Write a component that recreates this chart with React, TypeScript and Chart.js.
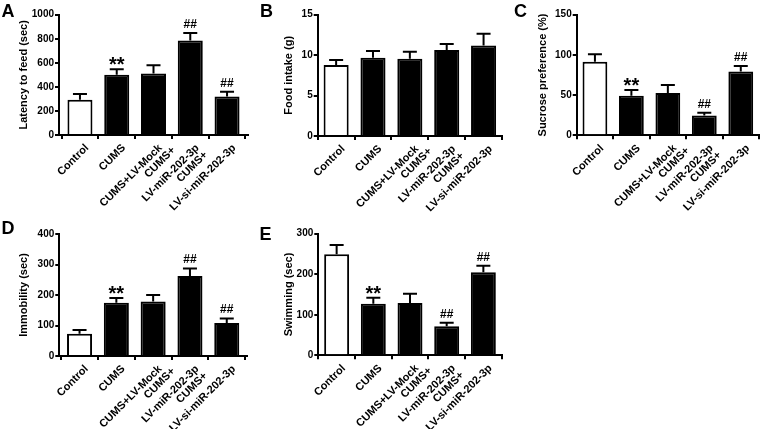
import React, { useEffect, useRef } from "react";
import { Chart, registerables } from "chart.js";

Chart.register(...registerables);

const FONT = '"Liberation Sans", Arial, Helvetica, sans-serif';

// Categories (multi-line tick labels)
const categories: string[][] = [
  ["Control"],
  ["CUMS"],
  ["CUMS+LV-Mock"],
  ["CUMS+", "LV-miR-202-3p"],
  ["CUMS+", "LV-si-miR-202-3p"],
];

// A: Latency to feed (sec)
const latencyMean = [293, 500, 511, 785, 320];
const latencySem = [47, 47, 69, 63, 39];
const latencySig = ["", "**", "", "##", "##"];

// B: Food intake (g)
const foodMean = [8.78, 9.68, 9.56, 10.63, 11.2];
const foodSem = [0.61, 0.82, 0.86, 0.74, 1.45];
const foodSig = ["", "", "", "", ""];

// C: Sucrose preference (%)
const sucroseMean = [91.6, 49.3, 52.6, 24.5, 79.2];
const sucroseSem = [9.1, 7.1, 10, 3.7, 7];
const sucroseSig = ["", "**", "", "##", "##"];

// D: Immobility (sec)
const immobilityMean = [73, 175, 179, 262, 108];
const immobilitySem = [12, 15, 21, 25, 15];
const immobilitySig = ["", "**", "", "##", "##"];

// E: Swimming (sec)
const swimmingMean = [249, 127, 129, 71.5, 205];
const swimmingSem = [23, 15, 23, 9, 16];
const swimmingSig = ["", "**", "", "##", "##"];

// rotated label placement (relative to tick / axis)
const LBL_ALONG = -3;
const LBL_PERP = 16;
const LBL_LH = 15;

type Panel = {
  letter: string;
  title: string;
  mean: number[];
  sem: number[];
  sig: string[];
  yMax: number;
  yStep: number;
  left: number;
  top: number;
  w: number;
  h: number;
  pl: number;
  pr: number;
  pt: number;
  xh: number;
  yw: number;
  xpad: number;
  letterX: number;
  letterY: number;
};

const panels: Panel[] = [
  {
    letter: "A", title: "Latency to feed (sec)", mean: latencyMean, sem: latencySem, sig: latencySig,
    yMax: 1000, yStep: 200,
    left: 0, top: 0, w: 255, h: 215, pl: 13.4, pr: 7, pt: 14.7, xh: 80, yw: 45.6, xpad: 0.57,
    letterX: 1.5, letterY: 1.7,
  },
  {
    letter: "B", title: "Food intake (g)", mean: foodMean, sem: foodSem, sig: foodSig,
    yMax: 15, yStep: 5,
    left: 255, top: 0, w: 255, h: 215, pl: 23.4, pr: 8, pt: 14.7, xh: 79, yw: 39.3, xpad: 0.5,
    letterX: 260, letterY: 1.7,
  },
  {
    letter: "C", title: "Sucrose preference (%)", mean: sucroseMean, sem: sucroseSem, sig: sucroseSig,
    yMax: 150, yStep: 50,
    left: 515, top: 0, w: 249, h: 215, pl: 17.4, pr: 5, pt: 14.7, xh: 79.7, yw: 44.3, xpad: 0.5,
    letterX: 514, letterY: 1.7,
  },
  {
    letter: "D", title: "Immobility (sec)", mean: immobilityMean, sem: immobilitySem, sig: immobilitySig,
    yMax: 400, yStep: 100,
    left: 0, top: 215, w: 255, h: 214, pl: 13.4, pr: 8, pt: 19, xh: 73, yw: 45.9, xpad: 0.55,
    letterX: 1.4, letterY: 218.7,
  },
  {
    letter: "E", title: "Swimming (sec)", mean: swimmingMean, sem: swimmingSem, sig: swimmingSig,
    yMax: 300, yStep: 100,
    left: 255, top: 215, w: 255, h: 214, pl: 23.4, pr: 8.3, pt: 18.7, xh: 73.7, yw: 39.9, xpad: 0.5,
    letterX: 259.5, letterY: 225.4,
  },
];

function makeChart(canvas: HTMLCanvasElement, p: Panel) {
  const errPlugin = {
    id: "errbars" + p.letter,
    afterDatasetsDraw(chart: any) {
      const ctx = chart.ctx as CanvasRenderingContext2D;
      const xs = chart.scales.x;
      const ys = chart.scales.y;
      ctx.save();
      ctx.strokeStyle = "#000";
      ctx.fillStyle = "#000";
      ctx.lineWidth = 2;
      p.mean.forEach((m, i) => {
        const x = xs.getPixelForValue(i);
        const y0 = ys.getPixelForValue(m);
        const y1 = ys.getPixelForValue(m + p.sem[i]);
        ctx.beginPath();
        ctx.moveTo(x, y0);
        ctx.lineTo(x, y1);
        ctx.moveTo(x - 7, y1);
        ctx.lineTo(x + 7, y1);
        ctx.stroke();
        const mark = p.sig[i];
        if (mark) {
          const star = mark === "**";
          ctx.font = `bold ${star ? 20 : 12}px ${FONT}`;
          ctx.textAlign = "center";
          ctx.textBaseline = "alphabetic";
          const mt = ctx.measureText(mark);
          const gap = star ? 3 : 4;
          const bottom = y1 - 1 - gap;
          ctx.fillText(mark, x, bottom - mt.actualBoundingBoxDescent);
        }
      });
      ctx.restore();
    },
    afterDraw(chart: any) {
      const ctx = chart.ctx as CanvasRenderingContext2D;
      const xs = chart.scales.x;
      const axisY = chart.chartArea.bottom;
      const dx = (LBL_ALONG + LBL_PERP) / Math.SQRT2;
      const dy = (LBL_PERP - LBL_ALONG) / Math.SQRT2;
      ctx.save();
      ctx.font = `bold 11px ${FONT}`;
      ctx.fillStyle = "#000";
      ctx.textBaseline = "alphabetic";
      ctx.textAlign = "center";
      categories.forEach((lines, i) => {
        const x = xs.getPixelForValue(i);
        const maxW = Math.max(...lines.map((l) => ctx.measureText(l).width));
        ctx.save();
        ctx.translate(x + dx, axisY + dy);
        ctx.rotate(-Math.PI / 4);
        lines.forEach((l, j) => {
          const yy = -(lines.length - 1 - j) * LBL_LH;
          ctx.fillText(l, -maxW / 2, yy);
        });
        ctx.restore();
      });
      ctx.restore();
    },
  };

  return new Chart(canvas, {
    type: "bar",
    data: {
      datasets: [
        {
          data: p.mean.map((v, i) => ({ x: i, y: v })),
          backgroundColor: p.mean.map((_, i) => (i === 0 ? "#ffffff" : "#000000")),
          borderColor: "#000000",
          borderWidth: 2,
          barPercentage: 0.68,
          categoryPercentage: 1,
        } as any,
      ],
    },
    options: {
      responsive: false,
      animation: false,
      devicePixelRatio: 1,
      layout: { padding: { left: p.pl, right: p.pr, top: p.pt, bottom: 0 } },
      plugins: {
        legend: { display: false },
        tooltip: { enabled: false },
      },
      scales: {
        x: {
          type: "linear",
          min: -p.xpad,
          max: categories.length - 1 + p.xpad,
          offset: false,
          afterBuildTicks: (axis: any) => {
            axis.ticks = categories.map((_, i) => ({ value: i }));
          },
          afterFit: (axis: any) => {
            axis.height = p.xh;
          },
          ticks: {
            display: false,
            autoSkip: false,
          },
          grid: {
            display: true,
            drawOnChartArea: false,
            drawTicks: true,
            tickLength: 4,
            color: "#000",
            lineWidth: 2,
          },
          border: { display: true, color: "#000", width: 2 },
        } as any,
        y: {
          min: 0,
          max: p.yMax,
          afterFit: (axis: any) => {
            axis.width = p.yw;
          },
          ticks: {
            stepSize: p.yStep,
            padding: 1,
            color: "#000",
            font: { family: FONT, size: 10, weight: "bold" },
            callback: (v: any) => String(v),
          },
          title: {
            display: true,
            text: p.title,
            color: "#000",
            font: { family: FONT, size: 11, weight: "bold" },
            padding: { top: 4, bottom: 4 },
          },
          grid: {
            display: true,
            drawOnChartArea: false,
            drawTicks: true,
            tickLength: 4,
            color: "#000",
            lineWidth: 2,
          },
          border: { display: true, color: "#000", width: 2 },
        } as any,
      },
    },
    plugins: [errPlugin],
  } as any);
}

function PanelChart({ p }: { p: Panel }) {
  const ref = useRef<HTMLCanvasElement | null>(null);
  useEffect(() => {
    if (!ref.current) return;
    const chart = makeChart(ref.current, p);
    return () => chart.destroy();
  }, [p]);
  return (
    <>
      <canvas
        ref={ref}
        width={p.w}
        height={p.h}
        style={{ position: "absolute", left: p.left, top: p.top, width: p.w, height: p.h }}
      />
      <div
        style={{
          position: "absolute",
          left: p.letterX,
          top: p.letterY,
          font: `bold 18px ${FONT}`,
          lineHeight: "18px",
          color: "#000",
        }}
      >
        {p.letter}
      </div>
    </>
  );
}

export default function App() {
  return (
    <div
      style={{
        position: "absolute",
        left: 0,
        top: 0,
        width: 764,
        height: 429,
        background: "#fff",
        overflow: "hidden",
      }}
    >
      {panels.map((p) => (
        <PanelChart key={p.letter} p={p} />
      ))}
    </div>
  );
}
